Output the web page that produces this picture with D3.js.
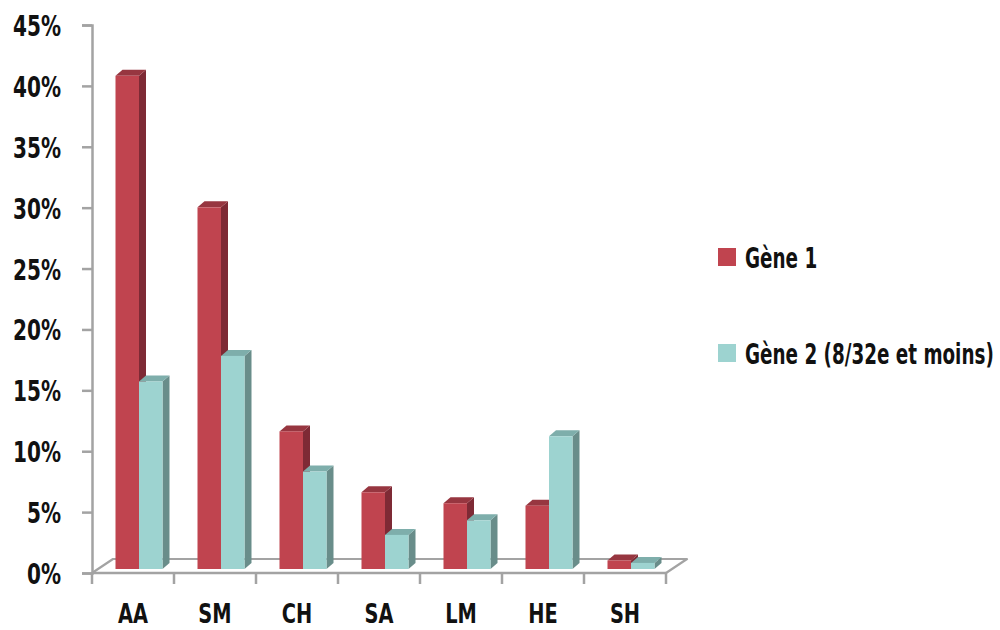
<!DOCTYPE html>
<html>
<head>
<meta charset="utf-8">
<script src="https://cdn.jsdelivr.net/npm/d3@7"></script>
<style>
  html, body { margin: 0; padding: 0; background: #fff; }
  svg text { font-family: "DejaVu Sans", sans-serif; font-weight: bold; fill: #111; }
</style>
</head>
<body>
<svg id="chart" width="1000" height="630"></svg>
<script>
// Categories and series
const categories = ["AA", "SM", "CH", "SA", "LM", "HE", "SH"];
const seriesNames = ["Gène 1", "Gène 2 (8/32e et moins)"];
const gene1 = [40.5, 29.7, 11.3, 6.3, 5.4, 5.2, 0.7];
const gene2 = [15.4, 17.5, 8.0, 2.8, 4.0, 10.9, 0.5];
const yTicks = [0, 5, 10, 15, 20, 25, 30, 35, 40, 45];

const colors = [
  { front: "#c0444f", side: "#7e2a35", top: "#973640" },
  { front: "#9dd3d0", side: "#698d8a", top: "#7eaeab" }
];

const svg = d3.select("#chart");

// Condensed look: squeeze a text group horizontally so a reference string hits a given width
function condense(sel, sampleWidth, sampleNatural) {
  const k = sampleWidth / sampleNatural;
  sel.each(function () {
    const w = this.getComputedTextLength();
    this.setAttribute("textLength", w * k);
    this.setAttribute("lengthAdjust", "spacingAndGlyphs");
  });
}
function naturalWidth(str, size) {
  const t = svg.append("text").attr("font-size", size).text(str);
  const w = t.node().getComputedTextLength();
  t.remove();
  return w;
}

// Plot frame with an oblique floor
const depth = { dx: 21, dy: -14 };     // floor depth
const barDepth = { dx: 7, dy: -6 };    // bar thickness
const barInset = { dx: 6, dy: -4 };    // bars sit slightly behind the floor's front edge

const x = d3.scaleBand().domain(categories).range([92, 666]).padding(0);
const y = d3.scaleLinear().domain([0, 45]).range([573, 25]);
const xs = d3.scaleBand().domain(seriesNames).range([-23.5, 23.5]).padding(0);

const axisColor = "#a3a3a3";
const fontSize = 29;

// Floor
const x0 = x.range()[0], x1 = x.range()[1], yb = y(0);
svg.append("path")
  .attr("d", `M${x0},${yb} L${x1},${yb} L${x1 + depth.dx},${yb + depth.dy} L${x0 + depth.dx},${yb + depth.dy} Z`)
  .attr("fill", "none")
  .attr("stroke", axisColor)
  .attr("stroke-width", 2.2)
  .attr("stroke-linejoin", "round");

// Y axis
const yAxis = d3.axisLeft(y).tickValues(yTicks).tickFormat(d => d + "%").tickSize(10).tickPadding(21);
const gy = svg.append("g").attr("transform", `translate(${x0},0)`).call(yAxis);
gy.select(".domain").attr("stroke", axisColor).attr("stroke-width", 2.5);
gy.selectAll(".tick line").attr("stroke", axisColor).attr("stroke-width", 2.5);
gy.selectAll(".tick text").attr("font-size", fontSize).attr("fill", "#111")
  .attr("font-family", "DejaVu Sans, sans-serif")
  .attr("font-weight", "bold").attr("dy", "0.36em");
condense(gy.selectAll(".tick text"), 48, naturalWidth("10%", fontSize));

// X axis (category ticks at band boundaries)
const gx = svg.append("g").attr("transform", `translate(0,${yb})`);
gx.append("line").attr("x1", x0).attr("x2", x1).attr("y1", 0).attr("y2", 0)
  .attr("stroke", axisColor).attr("stroke-width", 2.5);
const bounds = categories.map(c => x(c)).concat([x1]);
gx.selectAll("line.tk").data(bounds).join("line").attr("class", "tk")
  .attr("x1", d => d).attr("x2", d => d).attr("y1", 0).attr("y2", 11)
  .attr("stroke", axisColor).attr("stroke-width", 2.5);
const xLabels = gx.selectAll("text").data(categories).join("text")
  .attr("x", d => x(d) + x.bandwidth() / 2)
  .attr("y", 50)
  .attr("text-anchor", "middle")
  .attr("font-size", 27)
  .text(d => d);
condense(xLabels, 30, naturalWidth("AA", 27));

// Bars
const data = categories.map((c, i) => ({ cat: c, vals: [gene1[i], gene2[i]] }));
const bars = svg.append("g");
data.forEach(d => {
  d.vals.forEach((v, si) => {
    const name = seriesNames[si];
    const left = x(d.cat) + x.bandwidth() / 2 + barInset.dx + xs(name);
    const right = left + xs.bandwidth();
    const top = y(v) + barInset.dy;
    const bottom = y(0) + barInset.dy;
    const c = colors[si];
    const g = bars.append("g");
    // side face
    g.append("path")
      .attr("d", `M${right},${top} L${right + barDepth.dx},${top + barDepth.dy} L${right + barDepth.dx},${bottom + barDepth.dy} L${right},${bottom} Z`)
      .attr("fill", c.side);
    // top face
    g.append("path")
      .attr("d", `M${left},${top} L${left + barDepth.dx},${top + barDepth.dy} L${right + barDepth.dx},${top + barDepth.dy} L${right},${top} Z`)
      .attr("fill", c.top);
    // front face
    g.append("rect")
      .attr("x", left).attr("y", top)
      .attr("width", xs.bandwidth()).attr("height", bottom - top)
      .attr("fill", c.front);
  });
});

// Legend (text squeezed with a horizontal scale so its box matches what is drawn)
const legend = svg.append("g");
const legendY = [248, 344];
const legendSize = fontSize - 1;
const legendK = 249 / naturalWidth(seriesNames[1], legendSize);
seriesNames.forEach((name, i) => {
  legend.append("rect")
    .attr("x", 718).attr("y", legendY[i])
    .attr("width", 18).attr("height", 18)
    .attr("fill", colors[i].front);
  legend.append("g")
    .attr("transform", `translate(745,${legendY[i] + 20}) scale(${legendK},1)`)
    .append("text")
    .attr("x", 0).attr("y", 0)
    .attr("font-size", legendSize)
    .text(name);
});
</script>
</body>
</html>
